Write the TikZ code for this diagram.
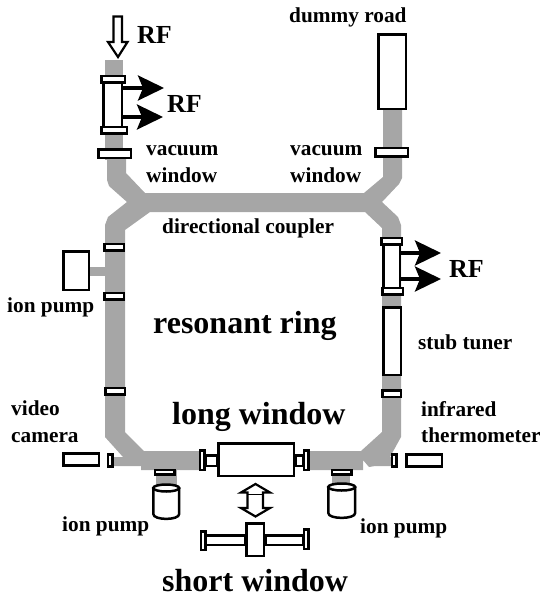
\documentclass[tikz,border=0pt]{standalone}
\usepackage{fontspec}
\setmainfont{Liberation Serif}
\usetikzlibrary{arrows.meta}
\definecolor{pipegray}{HTML}{A6A6A6}
\newcommand{\partbox}[4]{\draw[part] (#1+1.25,#2+1.25) rectangle (#3-1.25,#4-1.25);}
\tikzset{
  pipe/.style={fill=pipegray,draw=none},
  part/.style={draw=black,fill=white,line width=2.5pt},
  openarrow/.style={draw=black,fill=white,line width=2.2pt,line join=miter},
  rfout/.style={line width=3.4pt,-{Stealth[length=26pt,width=25pt,inset=5pt]}},
  lab/.style={anchor=base west,inner sep=0pt,font=\bfseries\fontsize{21.3}{23}\selectfont},
  big/.style={anchor=base west,inner sep=0pt,font=\bfseries\fontsize{32}{34}\selectfont},
  rf/.style={anchor=base west,inner sep=0pt,font=\bfseries\fontsize{26}{28}\selectfont},
}
\begin{document}
\begin{tikzpicture}[x=1pt,y=-1pt]
\useasboundingbox (0,0) rectangle (542,597);
% beam pipes
\fill[pipe] (105,60) rectangle (123,160);
\fill[pipe] (107,150) -- (126,150) -- (126,173) -- (145,193) -- (364,193) -- (383,177) -- (383,110) -- (402,110)
  -- (402,178) -- (399,184) -- (382,202) -- (398,217) -- (401,225) -- (401,437) -- (390,457) -- (393,457) -- (393,466)
  -- (375,466) -- (369,467) -- (363,460) -- (363,470) -- (310,470) -- (310,451) -- (361,451) -- (382,432)
  -- (382,228) -- (365,212) -- (150,212) -- (125,230) -- (125,432) -- (144,451) -- (199,451) -- (199,470)
  -- (141,470) -- (141,466) -- (113,466) -- (113,457) -- (123,457) -- (105,437) -- (105,225) -- (108,217)
  -- (127,202) -- (109,186) -- (107,180) -- cycle;
\fill[pipe] (90,267) rectangle (105,276);
\fill[pipe] (156,470) rectangle (177,486);
\fill[pipe] (332,470) rectangle (350,486);
% input RF arrow
\draw[openarrow] (113.5,16.5) -- (122,16.5) -- (122,42) -- (127.5,42) -- (118,57) -- (108,42) -- (113.5,42) -- cycle;
% upper-left coupler
\coordinate (rfa1) at (164,88);
\coordinate (rfa2) at (163,117);
\partbox{102}{80}{123}{128}
\draw[rfout] (122,88) -- (rfa1);
\draw[rfout] (122,117) -- (rfa2);
\partbox{100}{74.5}{126}{83.5}
\partbox{100}{125.5}{128}{134.5}
\partbox{97}{148}{132}{159}
% right coupler
\coordinate (rfb1) at (441,253);
\coordinate (rfb2) at (441,279);
\partbox{382}{242}{401}{290}
\draw[rfout] (400,253) -- (rfb1);
\draw[rfout] (400,279) -- (rfb2);
\partbox{380}{236.5}{403}{245.5}
\partbox{381}{286.5}{404}{295.5}
% right column
\partbox{377}{33}{407}{110}
\partbox{374}{146.5}{409}{157.5}
\partbox{382}{306}{402}{376}
\partbox{381}{389}{402}{398}
% left column
\partbox{103}{242.5}{125}{251.5}
\partbox{103}{291.5}{125}{300.5}
\partbox{104}{386.5}{126}{395.5}
\partbox{62}{250}{90}{291}
% bottom left
\partbox{62}{452}{100}{466.5}
\partbox{106.5}{453}{113.5}{467.5}
\partbox{153.5}{468.5}{175.5}{475.5}
% bottom right
\partbox{390.5}{453}{397.5}{467.5}
\partbox{405}{453}{443}{467.5}
\partbox{330.5}{468.5}{352.5}{475.5}
% long window
\partbox{204}{454}{218}{467}
\partbox{294}{454}{304}{467}
\partbox{198.5}{449}{205.5}{471}
\partbox{302.5}{449}{309.5}{471}
\partbox{217}{442}{295}{477}
% pumps
\draw[part] (153.3,488) -- (153.3,514) .. controls (153.3,520.5) and (179.2,520.5) .. (179.2,514) -- (179.2,488);
\draw[part] (166.2,488) ellipse [x radius=13,y radius=3.5];
\draw[part] (328.3,487) -- (328.3,513) .. controls (328.3,519.5) and (355.2,519.5) .. (355.2,513) -- (355.2,487);
\draw[part] (341.7,487) ellipse [x radius=13.5,y radius=3.5];
% exchange arrow
\draw[openarrow] (247.5,492.5) -- (241,492.5) -- (255.5,484) -- (270,492.5) -- (263,492.5) -- (263,508) -- (270,508)
  -- (255.5,516.5) -- (241,508) -- (247.5,508) -- cycle;
\draw[line width=.8pt] (247.5,494) -- (263,494);
% short window
\partbox{204}{534}{246}{546}
\partbox{264}{534}{304}{546}
\partbox{199.5}{530}{206.5}{551}
\partbox{302.5}{528}{309.5}{550}
\partbox{245}{522}{265}{557}
% labels
\node[rf] (rf1) at (137,43) {RF};
\node[rf] (rf2) at (167,112) {RF};
\node[rf] (rf3) at (449,277) {RF};
\node[lab] (dummy) at (289,23) {dummy road};
\node[lab] (vw1a) at (146,155) {vacuum};
\node[lab] (vw1b) at (146,182) {window};
\node[lab] (vw2a) at (290,155) {vacuum};
\node[lab] (vw2b) at (290,182) {window};
\node[lab] (dc) at (162,233) {directional coupler};
\node[lab] (ip1) at (7,312) {ion pump};
\node[lab] (stub) at (418,349) {stub tuner};
\node[lab] (cam1) at (11,415) {video};
\node[lab] (cam2) at (11,442) {camera};
\node[lab] (ir1) at (421,416) {infrared};
\node[lab] (ir2) at (421,442) {thermometer};
\node[lab] (ip2) at (62,531) {ion pump};
\node[lab] (ip3) at (360,533) {ion pump};
\node[big] (rr) at (153,333) {resonant ring};
\node[big] (lw) at (172,424) {long window};
\node[big] (sw) at (162,591) {short window};
\end{tikzpicture}
\end{document}
